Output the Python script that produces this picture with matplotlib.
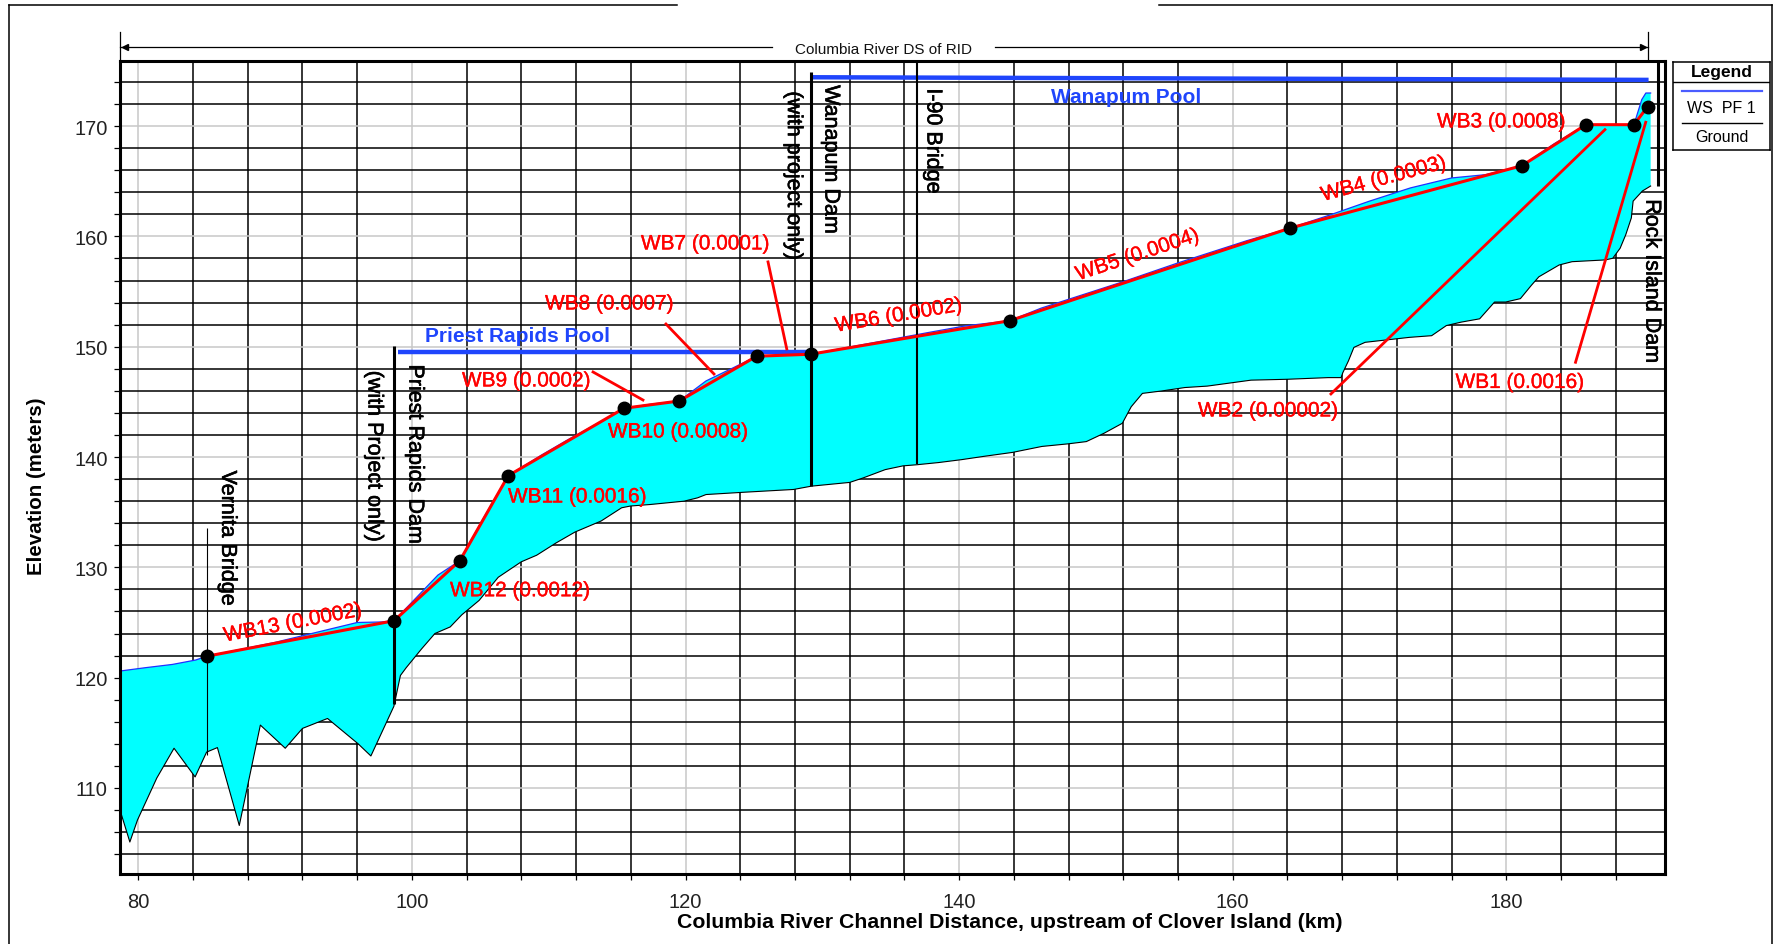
import matplotlib
matplotlib.use("Agg")
import matplotlib.pyplot as plt
import matplotlib.patheffects as pe
from matplotlib.lines import Line2D
from matplotlib.ticker import MultipleLocator
from matplotlib.transforms import blended_transform_factory
import numpy as np

plt.rcParams['font.family'] = ['Liberation Sans', 'DejaVu Sans']

# ---- Channel bed (ground) profile: distance (km) / elevation (m) ----
ground_km = [78.66, 79.38, 79.94, 81.35, 82.61, 84.15, 84.99, 85.78, 87.38, 88.92,
             90.74, 92.0, 93.83, 96.07, 97.0, 98.68, 99.16, 99.58, 100.7, 101.68,
             102.8, 103.65, 104.91, 106.31, 107.99, 109.12, 110.52, 111.92, 113.83, 115.33,
             115.98, 117.45, 119.9, 120.88, 121.5, 124.15, 127.9, 129.2, 132.0, 132.97,
             134.6, 135.9, 136.9, 138.5, 140.16, 141.8, 143.9, 146.05, 148.0, 149.3,
             150.6, 151.93, 152.58, 153.4, 154.87, 156.5, 158.14, 161.34, 164.0, 166.97,
             167.92, 168.05, 168.46, 168.86, 169.68, 172.92, 174.54, 175.62, 176.7, 178.05,
             179.14, 179.95, 181.03, 181.84, 182.38, 183.86, 184.81, 187.24, 187.78, 188.32,
             188.73, 189.14, 189.27, 189.95, 190.55]
ground_el = [108.0, 105.1, 107.1, 110.9, 113.6, 111.0, 113.25, 113.66, 106.6, 115.7,
             113.6, 115.4, 116.3, 114.0, 112.9, 117.4, 120.2, 120.9, 122.6, 124.0,
             124.6, 125.7, 127.0, 129.1, 130.5, 131.1, 132.2, 133.2, 134.2, 135.4,
             135.56, 135.7, 136.0, 136.3, 136.6, 136.8, 137.06, 137.36, 137.7, 138.1,
             138.86, 139.2, 139.3, 139.5, 139.76, 140.06, 140.42, 140.96, 141.2, 141.4,
             142.16, 143.06, 144.56, 145.77, 146.0, 146.3, 146.43, 146.97, 147.05, 147.2,
             147.2, 147.65, 148.72, 149.94, 150.4, 150.85, 151.0, 151.92, 152.23, 152.53,
             154.05, 154.05, 154.36, 155.58, 156.34, 157.41, 157.71, 157.87, 158.02, 158.93,
             160.15, 161.68, 163.2, 164.12, 164.57]

# ---- Water surface, profile PF 1 ----
ws_km = [78.66, 80.5, 82.5, 84.2, 85.0, 90.0, 94.0, 96.0, 97.8, 98.69,
         100.2, 101.9, 103.5, 105.2, 107.04, 109.5, 111.3, 113.5, 115.5, 117.5,
         119.54, 121.5, 123.5, 125.2, 129.15, 133.0, 137.8, 140.5, 143.7, 146.0,
         148.5, 152.0, 156.0, 159.0, 161.0, 164.18, 167.0, 170.0, 173.0, 176.0,
         178.5, 181.14, 183.5, 185.82, 189.33, 189.9, 190.2, 190.55]
ws_el = [120.6, 120.9, 121.2, 121.6, 121.94, 123.2, 124.4, 125.0, 125.05, 125.16,
         127.1, 129.3, 130.6, 134.4, 138.31, 140.2, 141.5, 143.0, 144.42, 144.8,
         145.08, 146.9, 148.1, 149.14, 149.32, 150.2, 151.3, 151.9, 152.36, 153.5,
         154.5, 155.9, 157.6, 158.8, 159.6, 160.75, 161.9, 163.2, 164.4, 165.3,
         165.6, 166.41, 168.4, 170.13, 170.13, 172.4, 173.0, 173.0]

# ---- Water-budget reach break points (downstream -> upstream) ----
wb_km = [85.0, 98.69, 103.5, 107.04, 115.5, 119.54, 125.2, 129.15, 143.7,
         164.18, 181.14, 185.82, 189.33, 190.33]
wb_el = [121.94, 125.16, 130.6, 138.31, 144.42, 145.08, 149.14, 149.32, 152.36,
         160.75, 166.41, 170.13, 170.13, 171.76]
wb_labels = ["WB13 (0.0002)", "WB12 (0.0012)", "WB11 (0.0016)", "WB10 (0.0008)",
             "WB9 (0.0002)", "WB8 (0.0007)", "WB7 (0.0001)", "WB6 (0.0002)",
             "WB5 (0.0004)", "WB4 (0.0003)", "WB3 (0.0008)", "WB2 (0.00002)",
             "WB1 (0.0016)"]

# ---- Pools and structures ----
pool_names = ["Priest Rapids Pool", "Wanapum Pool"]
pool_km = [(99.0, 129.15), (129.17, 190.4)]
pool_el = [(149.5, 149.5), (174.43, 174.19)]

struct_names = ["Vernita Bridge", "Priest Rapids Dam", "Wanapum Dam", "I-90 Bridge", "Rock Island Dam"]
struct_km = [85.0, 98.69, 129.17, 136.92, 191.06]
struct_bottom = [112.95, 117.6, 137.4, 139.37, 164.6]
struct_top = [133.56, 150.07, 174.88, 175.93, 175.93]

XMIN, XMAX = 78.66, 191.6
YMIN, YMAX = 102.2, 175.93

W, H = 1779, 945
fig = plt.figure(figsize=(W / 100, H / 100), dpi=100)
ax = fig.add_axes([120 / W, 1 - 875 / H, 1545 / W, 813.3 / H])
ax.set_xlim(XMIN, XMAX)
ax.set_ylim(YMIN, YMAX)


def heavy(c, w):
    return [pe.withStroke(linewidth=w, foreground=c)]


# grid: light lines on labelled values, black lines on every minor step
ax.xaxis.set_major_locator(MultipleLocator(20))
ax.xaxis.set_minor_locator(MultipleLocator(4))
ax.yaxis.set_major_locator(MultipleLocator(10))
ax.yaxis.set_minor_locator(MultipleLocator(2))
ax.set_axisbelow(True)
ax.grid(which='major', color='#c8c8c8', lw=1.1)
ax.grid(which='minor', color='black', lw=1.1)
ax.tick_params(which='both', direction='out', length=4.3, width=0.9, color='black')
ax.tick_params(axis='x', which='both', pad=9, labelsize=14.5, labelcolor='#222222')
ax.tick_params(axis='y', which='both', pad=4.5, labelsize=14.5, labelcolor='#222222')
for sp in ax.spines.values():
    sp.set_linewidth(2.2)
    sp.set_zorder(10)

# cyan water body between ground and water surface
poly_x = list(ws_km) + list(ground_km[::-1])
poly_y = list(ws_el) + list(ground_el[::-1])
ax.fill(poly_x, poly_y, color='#00ffff', zorder=2, lw=0)
ax.plot(ground_km, ground_el, color='black', lw=0.8, zorder=3)
ax.plot(ws_km, ws_el, color='#2030ff', lw=0.9, zorder=3)

# pools
pool_blue = '#1f45fc'
for (x0, x1), (y0, y1) in zip(pool_km, pool_el):
    ax.plot([x0, x1], [y0, y1], color=pool_blue, lw=3.2, solid_capstyle='butt', zorder=4)
ax.text(100.95, 151.0, pool_names[0], color=pool_blue, fontsize=15, fontweight='bold',
        ha='left', va='center', zorder=6)
ax.text(152.23, 172.64, pool_names[1], color=pool_blue, fontsize=15, fontweight='bold',
        ha='center', va='center', zorder=6)

# structure lines
struct_lw = [0.8, 2.2, 2.2, 1.5, 2.2]
for xk, yb, yt, lw in zip(struct_km, struct_bottom, struct_top, struct_lw):
    ax.plot([xk, xk], [yb, yt], color='black', lw=lw, solid_capstyle='butt', zorder=5, clip_on=False)

vtext = [("Vernita Bridge", 86.53, 132.66),
         ("(with Project only)", 97.23, 140.1),
         ("Priest Rapids Dam", 100.22, 140.28),
         ("(with project only)", 127.89, 165.53),
         ("Wanapum Dam", 130.63, 167.0),
         ("I-90 Bridge", 138.09, 168.65),
         ("Rock Island Dam", 190.64, 155.96)]
for s, xk, yk in vtext:
    ax.text(xk, yk, s, rotation=270, fontsize=15.5, ha='center', va='center',
            color='black', zorder=6, path_effects=heavy('black', 0.45))

# water-budget reach line and break points
ax.plot(wb_km, wb_el, color='#ff0000', lw=2.2, zorder=7, solid_joinstyle='round')
ax.plot(wb_km, wb_el, 'o', color='black', ms=9, zorder=8)

fig.canvas.draw()


def seg_angle(i):
    p0 = ax.transData.transform((wb_km[i], wb_el[i]))
    p1 = ax.transData.transform((wb_km[i + 1], wb_el[i + 1]))
    return np.degrees(np.arctan2(p1[1] - p0[1], p1[0] - p0[0]))


# label placement: (x, y, ha, rotate-with-segment, leader start, leader end)
label_layout = [
    (91.32, 124.95, 'center', True, None, None),
    (102.78, 127.88, 'left', False, None, None),
    (107.02, 136.38, 'left', False, None, None),
    (114.33, 142.27, 'left', False, None, None),
    (103.66, 146.9, 'left', False, (113.24, 147.71), (116.89, 145.17)),
    (109.73, 153.88, 'left', False, (118.57, 152.06), (122.08, 147.53)),
    (116.74, 159.32, 'left', False, (126.03, 157.69), (127.4, 149.8)),
    (135.6, 152.82, 'center', True, None, None),
    (153.07, 158.32, 'center', True, None, None),
    (171.06, 165.21, 'center', True, None, None),
    (174.93, 170.38, 'left', False, None, None),
    (157.46, 144.18, 'left', False, (167.18, 145.72), (187.21, 169.68)),
    (176.29, 146.76, 'left', False, (185.06, 148.59), (190.19, 170.35)),
]
for i, (lab, lay) in enumerate(zip(wb_labels, label_layout)):
    x, y, ha, rot, l0, l1 = lay
    angle = seg_angle(i) if rot else 0
    ax.text(x, y, lab, color='#ff0000', fontsize=15, ha=ha, va='center',
            rotation=angle, rotation_mode='anchor', zorder=9,
            path_effects=heavy('#ff0000', 0.25))
    if l0 is not None:
        ax.plot([l0[0], l1[0]], [l0[1], l1[1]], color='#ff0000', lw=2.0, zorder=7)

# reach extent arrow above the plot
tr = blended_transform_factory(ax.transData, ax.transAxes)
ya = (875 - 47.7) / 813.3
x_end = wb_km[-1]
xmid = 0.5 * (XMIN + x_end)
half_gap = 8.15
for xa, xb in [(XMIN, xmid - half_gap), (xmid + half_gap, x_end)]:
    ax.plot([xa, xb], [ya, ya], color='black', lw=0.9, transform=tr, clip_on=False)
for xv in (XMIN, x_end):
    ax.plot([xv, xv], [1.0, (875 - 32.7) / 813.3], color='black', lw=0.9,
            transform=tr, clip_on=False)
ax.plot([XMIN + 0.35], [ya], marker='<', color='black', ms=4.5, transform=tr, clip_on=False)
ax.plot([x_end - 0.35], [ya], marker='>', color='black', ms=4.5, transform=tr, clip_on=False)
ax.text(xmid, (875 - 50) / 813.3, "Columbia River DS of RID", transform=tr,
        fontsize=11, ha='center', va='center', color='#111111')

# axis titles
fig.text(1010 / W, 1 - 922.5 / H,
         "Columbia River Channel Distance, upstream of Clover Island (km)",
         fontsize=15.3, fontweight='bold', ha='center', va='center')
fig.text(37 / W, 1 - 486.5 / H, "Elevation (meters)", rotation=90,
         fontsize=14.8, fontweight='bold', ha='center', va='center')

# legend panel
lg = fig.add_axes([1673 / W, 1 - 151 / H, 97 / W, 88.3 / H])
lg.set_xlim(0, 97)
lg.set_ylim(88.3, 0)
lg.set_xticks([])
lg.set_yticks([])
for sp in lg.spines.values():
    sp.set_linewidth(1.1)
lg.text(48.5, 10.0, "Legend", fontsize=12.5, fontweight='bold', ha='center', va='center')
lg.plot([0, 97], [20.6, 20.6], color='black', lw=1.0)
lg.plot([8.7, 88.7], [29.0, 29.0], color='#4a5cff', lw=1.6)
lg.text(48.5, 45.6, "WS  PF 1", fontsize=11.5, ha='center', va='center')
lg.plot([8.7, 88.7], [61.3, 61.3], color='black', lw=1.0)
lg.text(48.5, 74.6, "Ground", fontsize=11.5, ha='center', va='center')

# page frame
fx = lambda p: p / W
fy = lambda p: 1 - p / H
for xs, ys in [([9.3, 9.3], [6, 945]), ([1772, 1772], [6, 945]),
               ([9.3, 677], [6, 6]), ([1159, 1772], [6, 6])]:
    fig.add_artist(Line2D([fx(v) for v in xs], [fy(v) for v in ys],
                          color='black', lw=1.1, transform=fig.transFigure))

fig.savefig("out.png", dpi=100, facecolor='white')
